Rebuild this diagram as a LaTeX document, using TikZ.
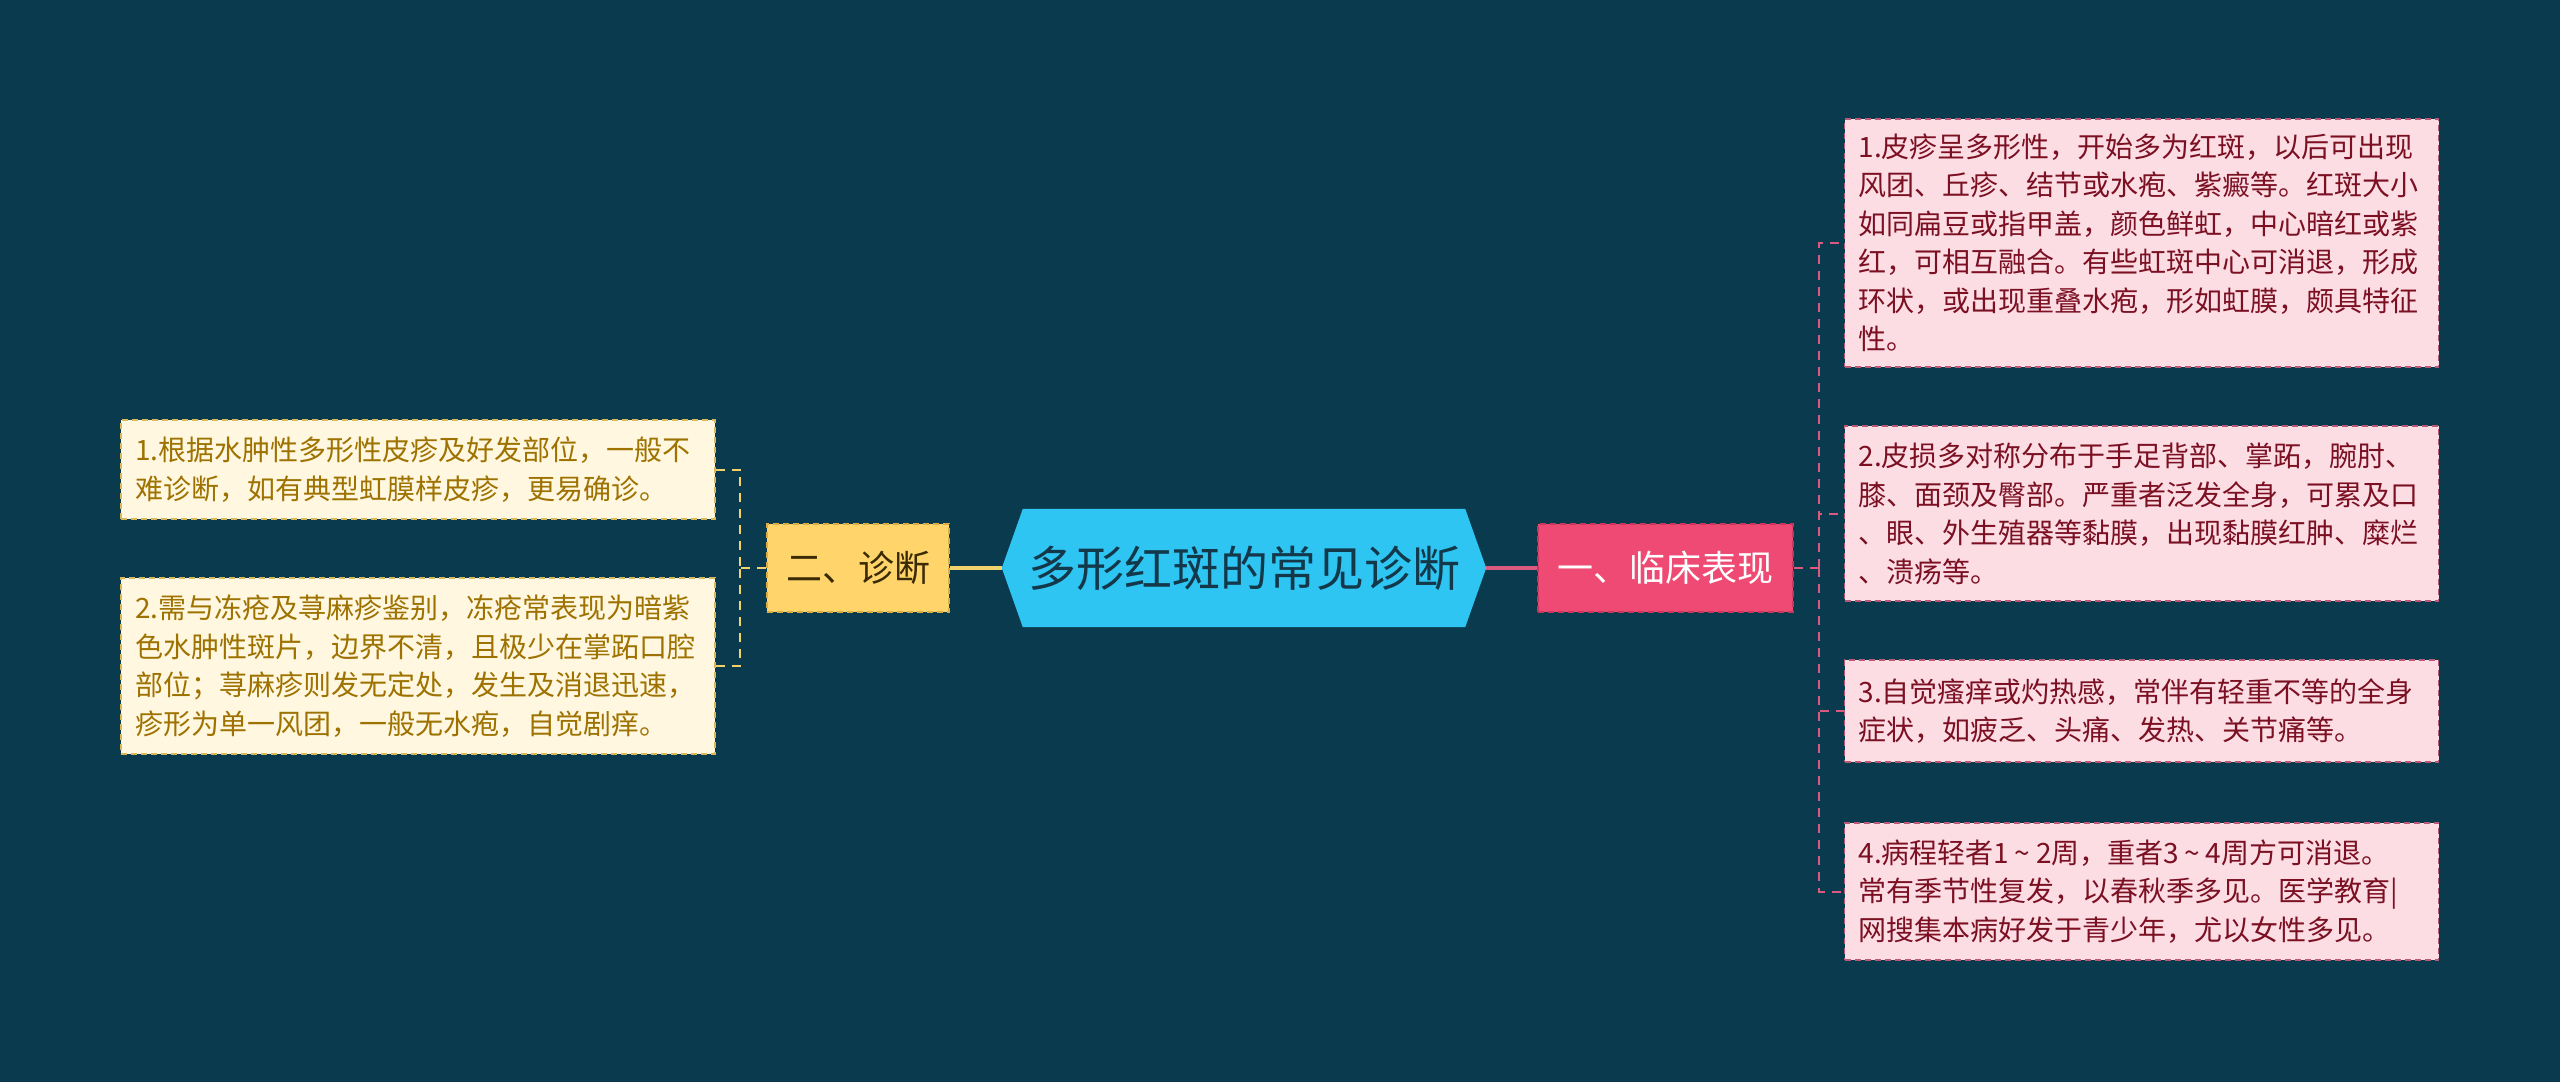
\documentclass[tikz,border=0pt]{standalone}
\usepackage{fontspec}
\setmainfont{Noto Sans CJK SC}
\usetikzlibrary{backgrounds}
\definecolor{bgc}{HTML}{093A4D}
\definecolor{cfill}{HTML}{2EC5F3}
\definecolor{ctext}{HTML}{12384A}
\definecolor{yfill}{HTML}{FFD56B}
\definecolor{yborder}{HTML}{D9AE45}
\definecolor{ytext}{HTML}{3A2A05}
\definecolor{pfill}{HTML}{EE4A73}
\definecolor{pborder}{HTML}{C8365C}
\definecolor{lfill}{HTML}{FFF7DF}
\definecolor{lborder}{HTML}{D8B85A}
\definecolor{ltext}{HTML}{9E7200}
\definecolor{rfill}{HTML}{FDDDE4}
\definecolor{rborder}{HTML}{B85A75}
\definecolor{rtext}{HTML}{7B1023}
\definecolor{yline}{HTML}{F2D36B}
\definecolor{pline}{HTML}{D85A7E}
\newcommand{\tld}{\hspace{0.2em}\textasciitilde\hspace{0.2em}}
\begin{document}
\begin{tikzpicture}[x=1pt,y=1pt,
  leafbase/.style={dashed, dash pattern=on 6pt off 4pt, line width=1.5pt, align=left,
    text width=566pt, inner xsep=14pt, inner ysep=0pt,
    font=\fontsize{28}{38.5}\selectfont, anchor=center},
  leafL/.style={leafbase, draw=lborder, fill=lfill, text=ltext},
  leafR/.style={leafbase, draw=rborder, fill=rfill, text=rtext},
  mainbox/.style={dashed, dash pattern=on 6pt off 4pt, line width=1.5pt,
    minimum height=88pt, inner xsep=0pt, font=\fontsize{36}{40}\selectfont},
  ybox/.style={mainbox, draw=yborder, fill=yfill, text=ytext},
  pbox/.style={mainbox, draw=pborder, fill=pfill, text=white},
  ydash/.style={draw=yline, line width=2pt, dashed, dash pattern=on 9pt off 7pt},
  pdash/.style={draw=pline, line width=2pt, dashed, dash pattern=on 9pt off 7pt}
]
\useasboundingbox (0,0) rectangle (2560,-1082);

% central node
\node[minimum width=484pt, minimum height=118pt, inner sep=0pt, text=ctext,
  font=\fontsize{48}{52}\selectfont] (c) at (1244,-568) {多形红斑的常见诊断};

% main branches
\node[ybox, minimum width=182pt] (n2) at (858,-568) {二、诊断};
\node[pbox, minimum width=255pt] (n1) at (1665.5,-568) {一、临床表现};

% left leaves
\node[leafL, minimum height=99pt] (L1) at (418,-469.5)
  {1.根据水肿性多形性皮疹及好发部位，一般不\\难诊断，如有典型虹膜样皮疹，更易确诊。};
\node[leafL, minimum height=176pt] (L2) at (418,-666)
  {2.需与冻疮及荨麻疹鉴别，冻疮常表现为暗紫\\色水肿性斑片，边界不清，且极少在掌跖口腔\\部位；荨麻疹则发无定处，发生及消退迅速，\\疹形为单一风团，一般无水疱，自觉剧痒。};

% right leaves
\node[leafR, minimum height=248pt] (R1) at (2141.5,-243)
  {1.皮疹呈多形性，开始多为红斑，以后可出现\\风团、丘疹、结节或水疱、紫癜等。红斑大小\\如同扁豆或指甲盖，颜色鲜虹，中心暗红或紫\\红，可相互融合。有些虹斑中心可消退，形成\\环状，或出现重叠水疱，形如虹膜，颇具特征\\性。};
\node[leafR, minimum height=175pt] (R2) at (2141.5,-513.5)
  {2.皮损多对称分布于手足背部、掌跖，腕肘、\\膝、面颈及臀部。严重者泛发全身，可累及口\\、眼、外生殖器等黏膜，出现黏膜红肿、糜烂\\、溃疡等。};
\node[leafR, minimum height=102pt] (R3) at (2141.5,-711)
  {3.自觉瘙痒或灼热感，常伴有轻重不等的全身\\症状，如疲乏、头痛、发热、关节痛等。};
\node[leafR, minimum height=137pt] (R4) at (2141.5,-891.5)
  {4.病程轻者1\tld 2周，重者3\tld 4周方可消退。\\常有季节性复发，以春秋季多见。医学教育|\\网搜集本病好发于青少年，尤以女性多见。};

% background and hexagon
\begin{scope}[on background layer]
  \fill[bgc] (0,0) rectangle (2560,-1082);
  \fill[cfill] (c.west) -- ([xshift=21pt]c.north west) -- ([xshift=-21pt]c.north east)
    -- (c.east) -- ([xshift=-21pt]c.south east) -- ([xshift=21pt]c.south west) -- cycle;
\end{scope}

% connectors
\draw[yline, line width=4pt] (c.west) -- (n2.east);
\draw[pline, line width=4pt] (c.east) -- (n1.west);

\coordinate (lb) at (740,-568);
\draw[ydash] (n2.west) -- (lb);
\draw[ydash] (L1.east) -| (lb);
\draw[ydash] (L2.east) -| (lb);

\coordinate (rb) at (1819,-568);
\draw[pdash] (n1.east) -- (rb);
\draw[pdash] (rb) |- (R1.west);
\draw[pdash] (rb) |- (R2.west);
\draw[pdash] (rb) |- (R3.west);
\draw[pdash] (rb) |- (R4.west);
\end{tikzpicture}
\end{document}
